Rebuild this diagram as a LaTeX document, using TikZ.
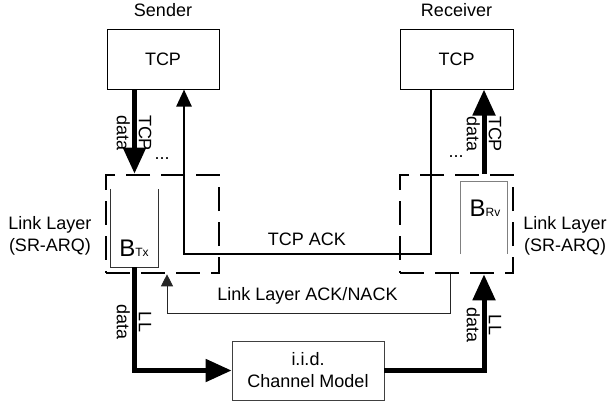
\documentclass[tikz,border=0pt]{standalone}
\usepackage{fontspec}
\setmainfont{Liberation Sans}
\usetikzlibrary{arrows.meta, positioning}

\begin{document}
\begin{tikzpicture}[
  x=1pt, y=-1pt,
  txt/.style={font=\fontsize{18}{22}\selectfont, inner sep=0pt},
  block/.style={rectangle, draw, line width=1pt, inner sep=0pt, align=center, txt},
  layer/.style={rectangle, draw, line width=2.6pt, dash pattern=on 24pt off 11pt, minimum width=113pt, minimum height=98pt},
  buffer/.style={minimum width=47pt, minimum height=78pt, inner sep=0pt},
  datalink/.style={line width=5pt, -{Triangle[width=22pt,length=26pt]}},
  acklink/.style={line width=2.5pt, -{Triangle[width=15pt,length=17pt]}},
  lllink/.style={line width=0.9pt, draw=black!85, -{Triangle[width=12pt,length=12pt]}},
  vlabel/.style={txt, rotate=-90, align=center},
]
  \useasboundingbox (0,0) rectangle (609,410);

  \node[block, minimum width=112pt, minimum height=60pt] (sendtcp) at (163,59) {TCP};
  \node[block, minimum width=113pt, minimum height=60pt] (recvtcp) at (456.5,59) {TCP};
  \node[txt, above=12pt of sendtcp] (sender) {Sender};
  \node[txt, above=12pt of recvtcp] (receiver) {Receiver};

  \node[layer] (sendll) at (162.5,224) {};
  \node[layer] (recvll) at (456.5,224) {};
  \node[txt, align=center] (sendlayer) at (50,236) {Link Layer\\(SR-ARQ)};
  \node[txt, align=center] (recvlayer) at (565,236) {Link Layer\\(SR-ARQ)};

  \node[buffer] (txbuf) at (134.5,228) {};
  \draw[line width=0.9pt, black!80] (txbuf.north west) |- (txbuf.south east) -- (txbuf.north east);
  \node[txt] (txname) at (134,248) {\fontsize{24}{24}\selectfont B\fontsize{12}{12}\selectfont Tx};
  \node[buffer, minimum width=46pt, minimum height=72pt] (rxbuf) at (484,218) {};
  \draw[line width=0.9pt, black!50] (rxbuf.south west) |- (rxbuf.north east) -- (rxbuf.south east);
  \node[txt] (rxname) at (485,208.5) {\fontsize{24}{24}\selectfont B\fontsize{12}{12}\selectfont Rv};

  \node[block, draw=black!75, line width=0.8pt, minimum width=152pt, minimum height=59pt] (channel) at (308,370.5) {i.i.d.\\Channel Model};

  \draw[datalink] (sendtcp.south -| txbuf) -- (sendll.north -| txbuf);
  \draw[datalink] (recvll.north -| rxbuf) -- (recvtcp.south -| rxbuf);
  \node[vlabel] (sendtcpdata) at (134,133) {TCP\\data};
  \node[vlabel] (recvtcpdata) at (484,134) {TCP\\data};
  \node[txt, anchor=base] (senddots) at (162,159) {...};
  \node[txt, anchor=base] (recvdots) at (456,157) {...};

  \draw[datalink] (txbuf.south) |- (channel.west);
  \draw[datalink] (channel.east) -| (recvll.south -| rxbuf);
  \node[vlabel] (sendlldata) at (134,322) {LL\\data};
  \node[vlabel] (recvlldata) at (484,325) {LL\\data};

  \coordinate (ackL) at (184,254);
  \coordinate (ackR) at (431,254);
  \draw[acklink] (recvtcp.south -| ackR) -- (ackR) -- (ackL) -- (sendtcp.south -| ackL);
  \node[txt, anchor=base] (tcpack) at (307,245) {TCP ACK};

  \coordinate (llackL) at (167,313);
  \coordinate (llackR) at (450,313);
  \draw[lllink] (recvll.south -| llackR) -- (llackR) -- (llackL) -- (sendll.south -| llackL);
  \node[txt, anchor=base] (llack) at (307.5,300) {Link Layer ACK/NACK};
\end{tikzpicture}
\end{document}
